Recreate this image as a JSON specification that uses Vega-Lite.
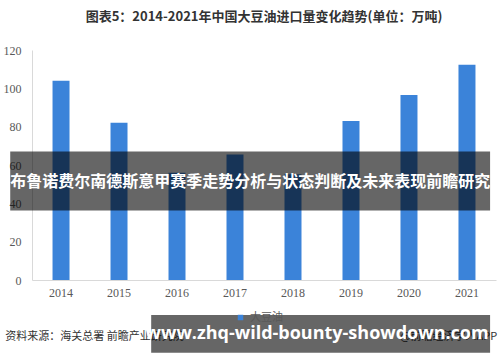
{
  "$schema": "https://vega.github.io/schema/vega-lite/v6.json",
  "width": 464,
  "height": 230,
  "autosize": "none",
  "padding": {"left": 32, "top": 50, "right": 4, "bottom": 82},
  "background": "white",
  "title": {
    "text": "图表5：2014-2021年中国大豆油进口量变化趋势(单位：万吨)",
    "font": "Noto Sans CJK SC",
    "fontSize": 13,
    "fontWeight": "bold",
    "color": "#333333",
    "anchor": "middle",
    "offset": 20
  },
  "config": {
    "view": {"stroke": null},
    "axis": {
      "labelFont": "Liberation Serif",
      "labelFontSize": 12,
      "labelColor": "#595959",
      "domainColor": "#d9d9d9",
      "ticks": false,
      "grid": false,
      "title": null,
      "labelOverlap": false
    }
  },
  "layer": [
    {
      "data": {
        "values": [
          {"year": "2014", "value": 104, "series": "大豆油"},
          {"year": "2015", "value": 82, "series": "大豆油"},
          {"year": "2016", "value": 56, "series": "大豆油"},
          {"year": "2017", "value": 65.5, "series": "大豆油"},
          {"year": "2018", "value": 55.2, "series": "大豆油"},
          {"year": "2019", "value": 83, "series": "大豆油"},
          {"year": "2020", "value": 96.5, "series": "大豆油"},
          {"year": "2021", "value": 112.3, "series": "大豆油"}
        ]
      },
      "mark": {"type": "bar"},
      "encoding": {
        "x": {
          "field": "year",
          "type": "nominal",
          "scale": {"paddingInner": 0.707, "paddingOuter": 0.354},
          "axis": {"labelAngle": 0, "labelPadding": 7}
        },
        "y": {
          "field": "value",
          "type": "quantitative",
          "scale": {"domain": [0, 120], "nice": false},
          "axis": {"values": [0, 20, 40, 60, 80, 100, 120], "tickCount": 7, "labelOverlap": false, "labelPadding": 11}
        },
        "color": {
          "field": "series",
          "type": "nominal",
          "scale": {"range": ["#3b83d9"]},
          "legend": {
            "title": null,
            "orient": "none",
            "legendX": 203,
            "legendY": 262,
            "symbolType": "square",
            "symbolSize": 30,
            "labelFont": "Noto Sans CJK SC",
            "labelFontSize": 11,
            "labelColor": "#595959"
          }
        }
      }
    },
    {
      "data": {"values": [{"y1": 67.0, "y2": 36.2}]},
      "mark": {"type": "rect", "color": "#000000", "opacity": 0.6},
      "encoding": {
        "x": {"datum": "2014", "type": "nominal", "bandPosition": -2.49},
        "x2": {"datum": "2021", "bandPosition": 1.86},
        "y": {"field": "y1", "type": "quantitative"},
        "y2": {"field": "y2"}
      }
    },
    {
      "data": {"values": [{"t": "布鲁诺费尔南德斯意甲赛季走势分析与状态判断及未来表现前瞻研究", "yv": 51.3}]},
      "mark": {"type": "text", "color": "white", "font": "Noto Sans CJK SC", "fontSize": 16, "fontWeight": "bold", "align": "center", "baseline": "middle"},
      "encoding": {
        "x": {"datum": "2017", "type": "nominal", "bandPosition": 1.39},
        "y": {"field": "yv", "type": "quantitative"},
        "text": {"field": "t"}
      }
    },
    {
      "data": {"values": [{"t": "资料来源：海关总署 前瞻产业研究院", "yv": -29.7}]},
      "mark": {"type": "text", "color": "#333333", "font": "Noto Sans CJK SC", "fontSize": 11, "align": "left", "baseline": "middle"},
      "encoding": {
        "x": {"datum": "2014", "type": "nominal", "bandPosition": -2.78},
        "y": {"field": "yv", "type": "quantitative"},
        "text": {"field": "t"}
      }
    },
    {
      "data": {"values": [{"t": "@前瞻经济学人APP", "yv": -29.7}]},
      "mark": {"type": "text", "color": "#333333", "font": "Noto Sans CJK SC", "fontSize": 11, "align": "right", "baseline": "middle"},
      "encoding": {
        "x": {"datum": "2021", "type": "nominal", "bandPosition": 2.28},
        "y": {"field": "yv", "type": "quantitative"},
        "text": {"field": "t"}
      }
    },
    {
      "data": {"values": [{"y1": -18.3, "y2": -37.9}]},
      "mark": {"type": "rect", "color": "#000000", "opacity": 0.6},
      "encoding": {
        "x": {"datum": "2016", "type": "nominal", "bandPosition": -1.02},
        "x2": {"datum": "2021", "bandPosition": 1.86},
        "y": {"field": "y1", "type": "quantitative"},
        "y2": {"field": "y2"}
      }
    },
    {
      "data": {"values": [{"t": "www.zhq-wild-bounty-showdown.com", "yv": -28.2}]},
      "mark": {"type": "text", "color": "white", "font": "Open Sans", "fontSize": 18, "fontWeight": "bold", "align": "center", "baseline": "middle"},
      "encoding": {
        "x": {"datum": "2018", "type": "nominal", "bandPosition": 1.92},
        "y": {"field": "yv", "type": "quantitative"},
        "text": {"field": "t"}
      }
    }
  ]
}
